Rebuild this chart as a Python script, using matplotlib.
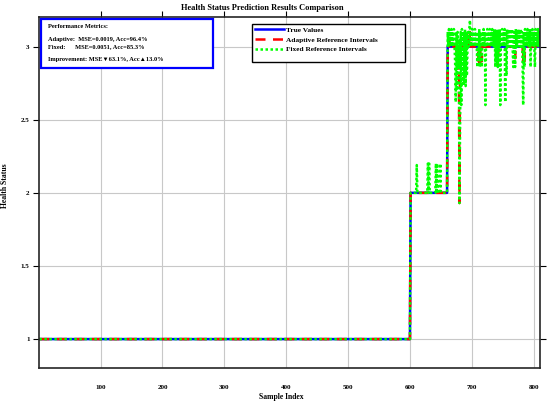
import numpy as np
import matplotlib
matplotlib.use("Agg")
import matplotlib.pyplot as plt
from matplotlib.patches import Rectangle

plt.rcParams['font.family'] = ['Liberation Serif', 'DejaVu Sans']
plt.rcParams['font.weight'] = 'bold'

# true health status: level and number of samples at that level
levels = [1, 2, 3]
level_lengths = [600, 60, 150]

# adaptive reference intervals: departures from the true value (sample -> value)
adaptive_changes = {664: 3.05, 676: 2.90, 678: 2.85, 680: 1.93, 695: 3.05, 697: 3.10,
                    711: 2.90, 713: 2.88, 716: 2.90, 740: 2.90, 742: 2.88,
                    770: 2.92, 783: 2.90, 785: 2.88}

# fixed reference intervals: spikes in the level-2 stretch
fixed_level2_spikes = {611: 2.19, 629: 2.20, 631: 2.20, 642: 2.20, 644: 2.20, 649: 2.20}

# fixed reference intervals, samples 661..810
fixed_level3 = [
    3.10, 3.00, 3.12, 3.00, 3.10, 3.05, 3.12, 3.00, 3.10, 3.00, 3.12, 3.00, 2.90, 2.62, 3.10,
    2.70, 3.10, 2.85, 3.05, 1.93, 2.45, 3.10, 2.60, 3.12, 3.00, 2.73, 3.10, 2.75, 3.12, 2.73,
    3.10, 2.80, 3.00, 3.10, 3.00, 3.12, 3.18, 3.00, 3.10, 3.00, 3.12, 3.05, 3.10, 3.00, 3.12,
    3.00, 3.10, 3.00, 2.86, 3.10, 2.90, 3.12, 2.86, 3.10, 3.00, 2.86, 3.10, 3.00, 3.12, 3.00,
    3.10, 2.60, 3.10, 3.00, 3.12, 3.00, 3.10, 3.05, 3.12, 3.00, 3.10, 3.00, 3.12, 3.00, 3.10,
    3.00, 3.12, 2.86, 3.10, 2.90, 3.12, 2.86, 3.10, 3.00, 3.12, 2.60, 3.10, 3.00, 3.12, 3.00,
    3.10, 3.00, 3.12, 2.62, 3.10, 2.80, 3.12, 3.00, 3.10, 3.00, 3.12, 3.05, 3.10, 3.00, 3.12,
    3.00, 2.86, 3.10, 3.00, 2.86, 3.12, 3.00, 3.10, 3.00, 3.12, 3.05, 3.10, 3.00, 3.12, 3.00,
    3.10, 2.90, 2.60, 3.10, 2.86, 3.12, 3.00, 3.10, 3.00, 3.12, 3.05, 3.10, 3.00, 3.12, 2.86,
    3.10, 3.00, 3.12, 3.00, 3.10, 3.00, 2.86, 3.12, 3.00, 3.10, 3.00, 3.12, 3.00, 3.10, 3.00,
]

metrics_lines = [
    "Performance Metrics:",
    "Adaptive:  MSE=0.0019, Acc=96.4%",
    "Fixed:      MSE=0.0051, Acc=85.3%",
    "Improvement: MSE\u25bc63.1%, Acc\u25b213.0%",
]


def main():
    true_values = np.repeat(levels, level_lengths).astype(float)
    samples = np.arange(1, len(true_values) + 1)

    adaptive = true_values.copy()
    for k, v in adaptive_changes.items():
        adaptive[k - 1] = v

    fixed = true_values.copy()
    for k, v in fixed_level2_spikes.items():
        fixed[k - 1] = v
    fixed[660:] = fixed_level3

    fig = plt.figure(figsize=(5.5, 4.03), dpi=100)
    ax = fig.add_axes([0.0716, 0.086, 0.910, 0.871])

    ax.plot(samples, true_values, color='#0000ff', lw=1.8, label='True Values')
    ax.plot(samples, adaptive, color='#ff0000', lw=1.8, ls=(0, (4, 3)),
            label='Adaptive Reference Intervals')
    ax.plot(samples, fixed, color='#00ff00', lw=1.8, ls=(0, (1, 1)),
            label='Fixed Reference Intervals')

    ax.set_xlim(1, 810)
    ax.set_ylim(0.8, 3.2)
    ax.set_xticks([100, 200, 300, 400, 500, 600, 700, 800])
    ax.set_yticks([1, 1.5, 2, 2.5, 3])
    ax.set_yticklabels(['1', '1.5', '2', '2.5', '3'])
    ax.grid(True, color='#c8c8c8', lw=0.8)
    ax.set_axisbelow(True)
    ax.tick_params(direction='out', length=4, width=0.8, labelsize=5,
                   top=True, right=True, bottom=False)
    ax.tick_params(axis='x', pad=8)
    ax.tick_params(axis='y', pad=3)
    for sp in ax.spines.values():
        sp.set_linewidth(1.2)
        sp.set_color('#262626')

    ax.set_title("Health Status Prediction Results Comparison", fontsize=6,
                 fontweight='bold', x=0.446, pad=5)
    ax.set_xlabel("Sample Index", fontsize=5.5, fontweight='bold')
    ax.set_ylabel("Health Status", fontsize=5.5, fontweight='bold')
    ax.xaxis.set_label_coords(0.483, -0.070)
    ax.yaxis.set_label_coords(-0.061, 0.521)

    # legend frame drawn separately so it can be wider than its entries
    ax.add_patch(Rectangle((0.425, 0.873), 0.305, 0.108, transform=ax.transAxes,
                           facecolor='white', edgecolor='black', lw=1.0, zorder=4))
    ax.legend(loc='upper left', bbox_to_anchor=(0.425, 0.981), borderaxespad=0,
              fontsize=5.3, frameon=False, handlelength=4.0,
              handletextpad=0.3, labelspacing=0.5, borderpad=0.35)

    ax.add_patch(Rectangle((0.004, 0.855), 0.343, 0.140, transform=ax.transAxes,
                           facecolor='white', edgecolor='#0000ff', lw=1.6, zorder=5))
    ypos = [0.973, 0.938, 0.917, 0.880]
    for y, line in zip(ypos, metrics_lines):
        ax.text(0.017, y, line, transform=ax.transAxes, fontsize=4.6,
                fontweight='bold', va='center', ha='left', zorder=6)

    fig.savefig('out.png', dpi=100)


if __name__ == "__main__":
    main()
